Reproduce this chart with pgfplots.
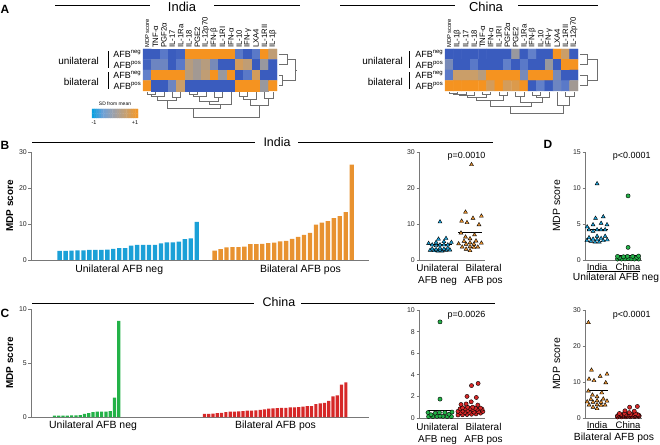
\documentclass[border=0pt]{standalone}
\usepackage{pgfplots}
\pgfplotsset{compat=1.18}
\usepackage{fontspec}
\setmainfont{Liberation Sans}
\definecolor{cblue}{RGB}{27,160,215}
\definecolor{corange}{RGB}{232,146,48}
\definecolor{cgreen}{RGB}{35,178,72}
\definecolor{cred}{RGB}{214,40,40}
\definecolor{axgray}{RGB}{120,120,120}
\definecolor{dgray}{RGB}{110,110,110}
\newcommand{\fs}[1]{\fontsize{#1}{#1}\selectfont}
\tikzset{grp/.style={anchor=north, align=center, inner sep=0pt, font=\fontsize{10}{12.5}\selectfont}}
\pgfplotsset{
  colormap={cb}{rgb255=(0,160,225) rgb255=(110,160,215) rgb255=(160,160,165) rgb255=(200,160,110) rgb255=(245,150,35)},
  colormap={hm}{rgb255=(58,92,190) rgb255=(98,128,202) rgb255=(152,152,158) rgb255=(202,158,105) rgb255=(245,147,32)},
  base/.style={scale only axis, anchor=south west, clip=false, /pgf/number format/assume math mode=true},
  dot/.style={axis x line=bottom, axis y line=left, axis line style={-, draw=axgray, line width=0.7bp},
    ytick style={draw=axgray, line width=0.7bp}, major tick length=2.5bp, tick align=outside,
    xtick style={draw=none}, yticklabel style={font=\fs{7}, text=black!85, inner sep=1.5bp}},
  heat/.style={y dir=reverse, enlargelimits=false, xmin=-0.5, xmax=15.5, ymin=-0.5, ymax=3.5,
    axis line style={draw=none}, tick style={draw=none}, major tick length=0pt,
    xtick={0,...,15}, xticklabel pos=upper, xticklabel style={rotate=90, anchor=west, font=\fs{7.8}, inner sep=1bp},
    ytick={0,...,3}, yticklabels={AFB\textsuperscript{neg},AFB\textsuperscript{pos},AFB\textsuperscript{neg},AFB\textsuperscript{pos}},
    yticklabel style={font=\fs{9}, inner sep=1.5bp}, colormap name=hm, point meta min=-1, point meta max=1},
  dend/.style={dgray, line width=0.5bp, no marks, unbounded coords=jump, forget plot},
  tri/.style={only marks, mark=triangle*, mark size=2.3bp, mark options={draw=none, fill=#1}},
  circ/.style={only marks, mark=*, mark size=2.1bp, mark options={draw=none, fill=#1}},
  meanl/.style={black, line width=0.9bp, no marks},
}
\begin{document}
\begin{tikzpicture}[x=1bp,y=1bp]
\path[use as bounding box] (0bp,0bp) rectangle (660bp,445bp);

% ---------------- A: India heatmap
\begin{axis}[base, heat, at={(143bp,354bp)}, width=134bp, height=42bp,
  xticklabels={{\fs{5.8}MDP score},TNF-α,PGF2α,IL-17,IL-1Ra,IL-18,PGE2,IL-12p70,IFN-β,IL-1RI,IFN-α,IL-10,IFN-γ,LXA4,IL-1RII,IL-1β}]
\addplot[matrix plot*, mesh/cols=16, point meta=explicit] table[meta=c, row sep=\\] {
x y c\\
0 0 -1\\ 1 0 -1\\ 2 0 -0.6\\ 3 0 -1\\ 4 0 -0.9\\ 5 0 1\\ 6 0 1\\ 7 0 1\\ 8 0 1\\ 9 0 1\\ 10 0 1\\ 11 0 -0.6\\ 12 0 -1\\ 13 0 -0.6\\ 14 0 1\\ 15 0 0.4\\
0 1 -0.9\\ 1 1 -0.4\\ 2 1 -0.4\\ 3 1 -1\\ 4 1 -0.6\\ 5 1 0.3\\ 6 1 0.1\\ 7 1 0.3\\ 8 1 -0.3\\ 9 1 -1\\ 10 1 -1\\ 11 1 0.6\\ 12 1 0.4\\ 13 1 -1\\ 14 1 0\\ 15 1 -1\\
0 2 -0.5\\ 1 2 1\\ 2 2 1\\ 3 2 1\\ 4 2 1\\ 5 2 0.3\\ 6 2 0.1\\ 7 2 0.4\\ 8 2 1\\ 9 2 0\\ 10 2 1\\ 11 2 -1\\ 12 2 -0.6\\ 13 2 0.6\\ 14 2 -1\\ 15 2 -1\\
0 3 1\\ 1 3 -1\\ 2 3 -1\\ 3 3 -0.4\\ 4 3 0.5\\ 5 3 -1\\ 6 3 -1\\ 7 3 -1\\ 8 3 -1\\ 9 3 -1\\ 10 3 -1\\ 11 3 1\\ 12 3 1\\ 13 3 1\\ 14 3 0\\ 15 3 1\\
};
\addplot[dend] coordinates {
(0,3.6)(0,3.79)(1,3.79)(1,3.6)(0,nan)
(0.5,3.79)(0.5,3.98)(2,3.98)(2,3.6)(0,nan)
(3,3.6)(3,4.07)(4,4.07)(4,3.6)(0,nan)
(1.25,3.98)(1.25,4.36)(3.5,4.36)(3.5,4.07)(0,nan)
(5,3.6)(5,3.79)(6,3.79)(6,3.6)(0,nan)
(5.5,3.79)(5.5,3.98)(7,3.98)(7,3.6)(0,nan)
(8,3.6)(8,4.07)(9,4.07)(9,3.6)(0,nan)
(6.25,3.98)(6.25,4.45)(8.5,4.45)(8.5,4.07)(0,nan)
(7.375,4.45)(7.375,4.74)(10,4.74)(10,3.6)(0,nan)
(2.375,4.36)(2.375,5.12)(8.69,5.12)(8.69,4.74)(0,nan)
(11,3.6)(11,3.98)(12,3.98)(12,3.6)(0,nan)
(11.5,3.98)(11.5,4.26)(13,4.26)(13,3.6)(0,nan)
(14,3.6)(14,4.17)(15,4.17)(15,3.6)(0,nan)
(12.25,4.26)(12.25,4.83)(14.5,4.83)(14.5,4.17)(0,nan)
(5.53,5.12)(5.53,5.98)(13.375,5.98)(13.375,4.83)(0,nan)
(9.45,5.98)(9.45,6.1)(0,nan)
(15.69,0)(16.76,0)(16.76,1)(15.69,1)(0,nan)
(15.69,2)(16.17,2)(16.17,3)(15.69,3)(0,nan)
(16.76,0.5)(17.7,0.5)(17.7,2.5)(16.17,2.5)(0,nan)
(17.7,1.5)(17.85,1.5)
};
\node[anchor=east, inner sep=0pt, font=\fs{10}] at ([xshift=-44bp]axis cs:-0.5,0.62) {unilateral};
\node[anchor=east, inner sep=0pt, font=\fs{10}] at ([xshift=-44bp]axis cs:-0.5,2.62) {bilateral};
\draw[line width=0.6bp] ([xshift=-35bp]axis cs:-0.5,-0.3) -- ([xshift=-35bp]axis cs:-0.5,1.3);
\draw[line width=0.6bp] ([xshift=-35bp]axis cs:-0.5,1.7) -- ([xshift=-35bp]axis cs:-0.5,3.3);
\end{axis}

% ---------------- A: China heatmap
\begin{axis}[base, heat, at={(445bp,354bp)}, width=133bp, height=42bp,
  xticklabels={{\fs{5.8}MDP score},IL-1β,IL-17,IL-18,TNF-α,IFN-α,IL-1RI,PGF2α,PGE2,IL-1Ra,IFN-β,IL-10,IFN-γ,LXA4,IL-1RII,IL-12p70}]
\addplot[matrix plot*, mesh/cols=16, point meta=explicit] table[meta=c, row sep=\\] {
x y c\\
0 0 -1\\ 1 0 -1\\ 2 0 -1\\ 3 0 -1\\ 4 0 -1\\ 5 0 -1\\ 6 0 -1\\ 7 0 -1\\ 8 0 0\\ 9 0 -1\\ 10 0 -0.5\\ 11 0 -1\\ 12 0 -1\\ 13 0 1\\ 14 0 0.5\\ 15 0 -1\\
0 1 -0.3\\ 1 1 -1\\ 2 1 -1\\ 3 1 -0.6\\ 4 1 -1\\ 5 1 -1\\ 6 1 -1\\ 7 1 -0.5\\ 8 1 -1\\ 9 1 -0.6\\ 10 1 -1\\ 11 1 -1\\ 12 1 0\\ 13 1 -1\\ 14 1 1\\ 15 1 1\\
0 2 -0.6\\ 1 2 0.5\\ 2 2 0.5\\ 3 2 0.5\\ 4 2 0.3\\ 5 2 1\\ 6 2 1\\ 7 2 1\\ 8 2 1\\ 9 2 -0.3\\ 10 2 1\\ 11 2 1\\ 12 2 1\\ 13 2 -0.3\\ 14 2 -1\\ 15 2 -1\\
0 3 1\\ 1 3 1\\ 2 3 1\\ 3 3 1\\ 4 3 1\\ 5 3 0.6\\ 6 3 1\\ 7 3 0.6\\ 8 3 0.7\\ 9 3 1\\ 10 3 -1\\ 11 3 -0.5\\ 12 3 -1\\ 13 3 -0.4\\ 14 3 -0.6\\ 15 3 0.1\\
};
\addplot[dend] coordinates {
(0,3.6)(0,3.69)(1,3.69)(1,3.6)(0,nan)
(0.5,3.69)(0.5,3.79)(2,3.79)(2,3.6)(0,nan)
(1.25,3.79)(1.25,3.88)(3,3.88)(3,3.6)(0,nan)
(4,3.6)(4,3.79)(5,3.79)(5,3.6)(0,nan)
(2.125,3.88)(2.125,4.07)(4.5,4.07)(4.5,3.79)(0,nan)
(6,3.6)(6,3.88)(7,3.88)(7,3.6)(0,nan)
(3.31,4.07)(3.31,4.36)(6.5,4.36)(6.5,3.88)(0,nan)
(8,3.6)(8,3.98)(9,3.98)(9,3.6)(0,nan)
(10,3.6)(10,3.88)(11,3.88)(11,3.6)(0,nan)
(10.5,3.88)(10.5,4.07)(12,4.07)(12,3.6)(0,nan)
(8.5,3.98)(8.5,4.55)(11.25,4.55)(11.25,4.07)(0,nan)
(4.91,4.36)(4.91,4.93)(9.875,4.93)(9.875,4.55)(0,nan)
(14,3.6)(14,3.98)(15,3.98)(15,3.6)(0,nan)
(13,3.6)(13,4.83)(14.5,4.83)(14.5,3.98)(0,nan)
(7.39,4.93)(7.39,5.6)(13.75,5.6)(13.75,4.83)(0,nan)
(10.57,5.6)(10.57,5.72)(0,nan)
(15.75,0)(16.59,0)(16.59,1)(15.75,1)(0,nan)
(15.75,2)(16.59,2)(16.59,3)(15.75,3)(0,nan)
(16.59,0.5)(17.79,0.5)(17.79,2.5)(16.59,2.5)
};
\node[anchor=east, inner sep=0pt, font=\fs{10}] at ([xshift=-42bp]axis cs:-0.5,0.62) {unilateral};
\node[anchor=east, inner sep=0pt, font=\fs{10}] at ([xshift=-42bp]axis cs:-0.5,2.62) {bilateral};
\draw[line width=0.6bp] ([xshift=-36bp]axis cs:-0.5,-0.3) -- ([xshift=-36bp]axis cs:-0.5,1.3);
\draw[line width=0.6bp] ([xshift=-36bp]axis cs:-0.5,1.7) -- ([xshift=-36bp]axis cs:-0.5,3.3);
\end{axis}

% ---------------- colour bar
\begin{axis}[base, at={(92bp,327bp)}, width=46bp, height=9bp, hide axis, enlargelimits=false,
  xmin=-0.5, xmax=19.5, ymin=-0.5, ymax=1.5, colormap name=cb, point meta min=-1, point meta max=1]
\addplot[matrix plot*, mesh/cols=20, point meta=explicit] table[meta=c, row sep=\\] {
x y c\\
0 0 -0.95\\ 1 0 -0.85\\ 2 0 -0.75\\ 3 0 -0.65\\ 4 0 -0.55\\ 5 0 -0.45\\ 6 0 -0.35\\ 7 0 -0.25\\ 8 0 -0.15\\ 9 0 -0.05\\
10 0 0.05\\ 11 0 0.15\\ 12 0 0.25\\ 13 0 0.35\\ 14 0 0.45\\ 15 0 0.55\\ 16 0 0.65\\ 17 0 0.75\\ 18 0 0.85\\ 19 0 0.95\\
0 1 -0.95\\ 1 1 -0.85\\ 2 1 -0.75\\ 3 1 -0.65\\ 4 1 -0.55\\ 5 1 -0.45\\ 6 1 -0.35\\ 7 1 -0.25\\ 8 1 -0.15\\ 9 1 -0.05\\
10 1 0.05\\ 11 1 0.15\\ 12 1 0.25\\ 13 1 0.35\\ 14 1 0.45\\ 15 1 0.55\\ 16 1 0.65\\ 17 1 0.75\\ 18 1 0.85\\ 19 1 0.95\\
};
\end{axis}

% ---------------- B: India bars
\begin{axis}[base, dot, at={(31bp,185bp)}, width=338bp, height=108bp, xmin=-3.8, xmax=52.9, ymin=0, ymax=30,
  ytick={0,10,20,30}, xtick=\empty,
  ylabel={MDP score}, ylabel style={at={(axis description cs:-0.052,0.5)}, anchor=south, inner sep=0pt, font=\bfseries\fs{10}}]
\addplot[ybar, bar width=4.4bp, bar shift=0pt, fill=cblue, draw=none] coordinates {
(1,2.5)(2,2.5)(3,2.6)(4,2.7)(5,2.7)(6,2.8)(7,2.8)(8,2.8)(9,2.9)(10,3.1)(11,3.3)(12,3.3)
(13,4.0)(14,4.2)(15,4.2)(16,4.2)(17,4.2)(18,4.6)(19,4.9)(20,4.9)(21,5.1)(22,5.8)(23,6.0)(24,10.6)};
\addplot[ybar, bar width=4.4bp, bar shift=0pt, fill=corange, draw=none] coordinates {
(27,2.6)(28,3.0)(29,3.5)(30,3.6)(31,3.6)(32,3.7)(33,4.4)(34,4.4)(35,4.5)(36,4.7)(37,4.8)(38,5.2)
(39,5.3)(40,5.9)(41,6.4)(42,7.0)(43,7.5)(44,9.8)(45,10.4)(46,10.8)(47,11.6)(48,12.2)(49,13.3)(50,26.5)};
\node[anchor=north, inner sep=0pt, font=\fs{10.5}] at ([yshift=-5bp]axis cs:11,0) {Unilateral AFB neg};
\node[anchor=north, inner sep=0pt, font=\fs{10.5}] at ([yshift=-5bp]axis cs:41.4,0) {Bilateral AFB pos};
\end{axis}

% ---------------- B: India scatter
\begin{axis}[base, dot, at={(419bp,185bp)}, width=66bp, height=108bp, xmin=0.3, xmax=2.5, ymin=0, ymax=30,
  ytick={0,10,20,30}, xtick=\empty]
\addplot[tri=cblue] coordinates {
(0.93,2.5)(1.07,2.5)(0.80,2.6)(1.20,2.7)(0.67,2.7)(1.33,2.8)(1.00,2.8)(0.87,2.9)(1.13,3.0)(0.74,3.1)(1.26,3.3)(1.00,3.3)
(0.87,4.0)(1.13,4.2)(0.74,4.2)(1.26,4.2)(1.00,4.2)(0.62,4.6)(1.38,4.9)(0.87,4.9)(1.13,5.1)(0.95,5.8)(1.20,6.0)(1.00,10.6)};
\addplot[tri=corange] coordinates {
(2.00,2.6)(1.87,3.0)(2.13,3.5)(1.74,3.6)(2.26,3.6)(2.00,3.7)(1.87,4.4)(2.13,4.4)(1.62,4.5)(2.38,4.7)(2.00,4.8)(1.80,5.2)
(2.20,5.3)(2.00,5.9)(1.85,6.4)(2.15,7.0)(1.70,7.5)(2.30,9.8)(1.90,10.4)(1.72,10.8)(2.10,11.6)(2.38,12.2)(1.85,13.3)(2.05,26.5)};
\addplot[meanl] coordinates {(0.6,4.2)(1.4,4.2)};
\addplot[meanl] coordinates {(1.6,7.6)(2.4,7.6)};
\node[font=\fs{9}] at (rel axis cs:0.72,0.96) {p=0.0010};
\node[grp] at ([yshift=-4bp]axis cs:0.917,0) {Unilateral\\AFB neg};
\node[grp] at ([yshift=-4bp]axis cs:2.45,0) {Bilateral\\AFB pos};
\end{axis}

% ---------------- C: China bars
\begin{axis}[base, dot, at={(31bp,28bp)}, width=338bp, height=108bp, xmin=-4.48, xmax=74.4, ymin=0, ymax=10,
  ytick={0,5,10}, xtick=\empty,
  ylabel={MDP score}, ylabel style={at={(axis description cs:-0.052,0.5)}, anchor=south, inner sep=0pt, font=\bfseries\fs{10}}]
\addplot[ybar, bar width=3.2bp, bar shift=0pt, fill=cgreen, draw=none] coordinates {
(1,0.13)(2,0.13)(3,0.13)(4,0.13)(5,0.15)(6,0.15)(7,0.18)(8,0.3)(9,0.35)(10,0.45)(11,0.5)(12,0.5)(13,0.5)(14,0.55)(15,1.8)(16,8.9)};
\addplot[ybar, bar width=3.2bp, bar shift=0pt, fill=cred, draw=none] coordinates {
(36,0.28)(37,0.3)(38,0.32)(39,0.35)(40,0.38)(41,0.45)(42,0.5)(43,0.5)(44,0.52)(45,0.55)(46,0.58)(47,0.6)
(48,0.62)(49,0.65)(50,0.7)(51,0.78)(52,0.8)(53,0.82)(54,0.85)(55,0.85)(56,0.88)(57,0.9)(58,0.92)(59,0.95)
(60,1.0)(61,1.0)(62,1.2)(63,1.25)(64,1.3)(65,1.5)(66,1.9)(67,2.0)(68,3.0)(69,3.2)};
\node[anchor=north, inner sep=0pt, font=\fs{10.5}] at ([yshift=-4bp]axis cs:10,0) {Unilateral AFB neg};
\node[anchor=north, inner sep=0pt, font=\fs{10.5}] at ([yshift=-4bp]axis cs:52.6,0) {Bilateral AFB pos};
\end{axis}

% ---------------- C: China scatter
\begin{axis}[base, dot, at={(419bp,27bp)}, width=66bp, height=108bp, xmin=0.3, xmax=2.5, ymin=0, ymax=10,
  ytick={0,2,4,6,8,10}, xtick=\empty]
\addplot[circ=cgreen] coordinates {
(0.62,0.13)(0.76,0.13)(1.24,0.13)(1.38,0.13)(0.90,0.15)(1.10,0.15)(1.00,0.18)(0.70,0.30)
(1.30,0.35)(0.84,0.45)(1.16,0.50)(0.98,0.50)(0.60,0.50)(1.40,0.55)(1.00,1.75)(1.00,8.9)};
\addplot[circ=cred] coordinates {
(1.60,0.28)(1.75,0.3)(1.90,0.32)(2.05,0.35)(2.20,0.38)(2.35,0.45)(1.68,0.5)(1.83,0.5)(1.98,0.52)(2.13,0.55)(2.28,0.58)(2.43,0.6)
(1.60,0.62)(1.76,0.65)(1.92,0.7)(2.08,0.78)(2.24,0.8)(2.40,0.82)(1.67,0.85)(1.84,0.85)(2.01,0.88)(2.18,0.9)(2.35,0.92)(1.75,0.95)
(1.92,1.0)(2.09,1.0)(2.26,1.2)(1.70,1.25)(1.87,1.3)(2.04,1.5)(2.21,1.9)(1.90,2.0)(2.05,3.0)(2.27,3.2)};
\addplot[meanl] coordinates {(0.6,0.68)(1.4,0.68)};
\addplot[meanl] coordinates {(1.6,0.85)(2.4,0.85)};
\node[font=\fs{9}] at (rel axis cs:0.72,0.95) {p=0.0026};
\node[grp] at ([yshift=-5bp]axis cs:0.917,0) {Unilateral\\AFB neg};
\node[grp] at ([yshift=-5bp]axis cs:2.45,0) {Bilateral\\AFB pos};
\end{axis}

% ---------------- D top
\begin{axis}[base, dot, at={(585bp,185bp)}, width=57bp, height=108bp, xmin=0.61, xmax=2.45, ymin=0, ymax=15,
  ytick={0,5,10,15}, xtick={1,2}, xticklabels={India,China}, xticklabel style={font=\fs{9.5}, inner sep=1bp},
  ylabel={MDP score}, ylabel style={at={(axis description cs:-0.43,0.5)}, anchor=south, inner sep=0pt, font=\fs{10.5}}]
\addplot[tri=cblue] coordinates {
(0.93,2.5)(1.07,2.5)(0.80,2.6)(1.20,2.7)(0.67,2.7)(1.33,2.8)(1.00,2.8)(0.87,2.9)(1.13,3.0)(0.74,3.1)(1.26,3.3)(1.00,3.3)
(0.87,4.0)(1.13,4.2)(0.74,4.2)(1.26,4.2)(1.00,4.2)(0.68,4.6)(1.32,4.9)(0.87,4.9)(1.13,5.1)(0.95,5.8)(1.20,6.0)(1.00,10.6)};
\addplot[circ=cgreen] coordinates {
(1.66,0.13)(1.79,0.13)(2.21,0.13)(2.34,0.13)(1.90,0.15)(2.10,0.15)(2.00,0.18)(1.72,0.30)
(2.28,0.35)(1.85,0.45)(2.15,0.50)(1.98,0.50)(1.66,0.50)(2.34,0.55)(2.00,1.75)(2.00,8.9)};
\addplot[meanl] coordinates {(0.66,4.2)(1.34,4.2)};
\addplot[meanl] coordinates {(1.66,0.68)(2.34,0.68)};
\node[font=\fs{9}] at (rel axis cs:0.82,0.96) {p<0.0001};
\end{axis}

% ---------------- D bottom
\begin{axis}[base, dot, at={(585bp,27bp)}, width=57bp, height=108bp, xmin=0.61, xmax=2.45, ymin=0, ymax=30,
  ytick={0,10,20,30}, xtick={1,2}, xticklabels={India,China}, xticklabel style={font=\fs{9.5}, inner sep=1bp},
  ylabel={MDP score}, ylabel style={at={(axis description cs:-0.43,0.5)}, anchor=south, inner sep=0pt, font=\fs{10.5}}]
\addplot[tri=corange] coordinates {
(1.00,2.6)(0.87,3.0)(1.13,3.5)(0.74,3.6)(1.26,3.6)(1.00,3.7)(0.87,4.4)(1.13,4.4)(0.68,4.5)(1.32,4.7)(1.00,4.8)(0.80,5.2)
(1.20,5.3)(1.00,5.9)(0.85,6.4)(1.15,7.0)(0.72,7.5)(1.28,9.8)(0.90,10.4)(0.74,10.8)(1.10,11.6)(1.32,12.2)(0.82,13.3)(0.72,26.5)};
\addplot[circ=cred] coordinates {
(1.66,0.28)(1.79,0.3)(1.93,0.32)(2.07,0.35)(2.21,0.38)(2.34,0.45)(1.70,0.5)(1.84,0.5)(1.98,0.52)(2.12,0.55)(2.26,0.58)(2.36,0.6)
(1.66,0.62)(1.80,0.65)(1.94,0.7)(2.08,0.78)(2.22,0.8)(2.34,0.82)(1.70,0.85)(1.85,0.85)(2.00,0.88)(2.15,0.9)(2.30,0.92)(1.76,0.95)
(1.92,1.0)(2.08,1.0)(2.24,1.2)(1.72,1.25)(1.88,1.3)(2.04,1.5)(2.20,1.9)(1.90,2.0)(2.05,3.0)(2.30,3.2)};
\addplot[meanl] coordinates {(0.66,7.6)(1.34,7.6)};
\addplot[meanl] coordinates {(1.66,0.85)(2.34,0.85)};
\node[font=\fs{9}] at (rel axis cs:0.82,0.95) {p<0.0001};
\end{axis}

% ---------------- titles, panel letters, group labels
\begin{scope}[line width=0.6bp]
\node[font=\bfseries\fs{12}] at (5bp,436bp) {A};
\node[font=\bfseries\fs{12}] at (5bp,300bp) {B};
\node[font=\bfseries\fs{12}] at (5bp,132bp) {C};
\node[font=\bfseries\fs{12}] at (548bp,301bp) {D};
\draw (55bp,440bp) -- (150bp,440bp); \draw (214bp,440bp) -- (300bp,440bp);
\node[font=\fs{13}] at (182bp,438.5bp) {India};
\draw (340bp,440bp) -- (455bp,440bp); \draw (518bp,440bp) -- (598bp,440bp);
\node[font=\fs{13}] at (486bp,438.5bp) {China};
\node[font=\fs{5}] at (115bp,341bp) {SD from mean};
\node[font=\fs{5.5}] at (94bp,322bp) {-1};
\node[font=\fs{5.5}] at (135bp,322bp) {+1};
\draw (32bp,302.3bp) -- (255bp,302.3bp); \draw (298bp,302.3bp) -- (493bp,302.3bp);
\node[font=\fs{12.5}] at (277bp,303bp) {India};
\draw (32bp,142bp) -- (254bp,142bp); \draw (301bp,142bp) -- (495bp,142bp);
\node[font=\fs{12.5}] at (279bp,142.5bp) {China};
\draw (587bp,174bp) -- (640bp,174bp);
\node[anchor=north, inner sep=0pt, font=\fs{10.3}] at (616bp,172bp) {Unilateral AFB neg};
\draw (587bp,16bp) -- (640bp,16bp);
\node[anchor=north, inner sep=0pt, font=\fs{10.4}] at (614bp,12bp) {Bilateral AFB pos};
\end{scope}
\end{tikzpicture}
\end{document}
